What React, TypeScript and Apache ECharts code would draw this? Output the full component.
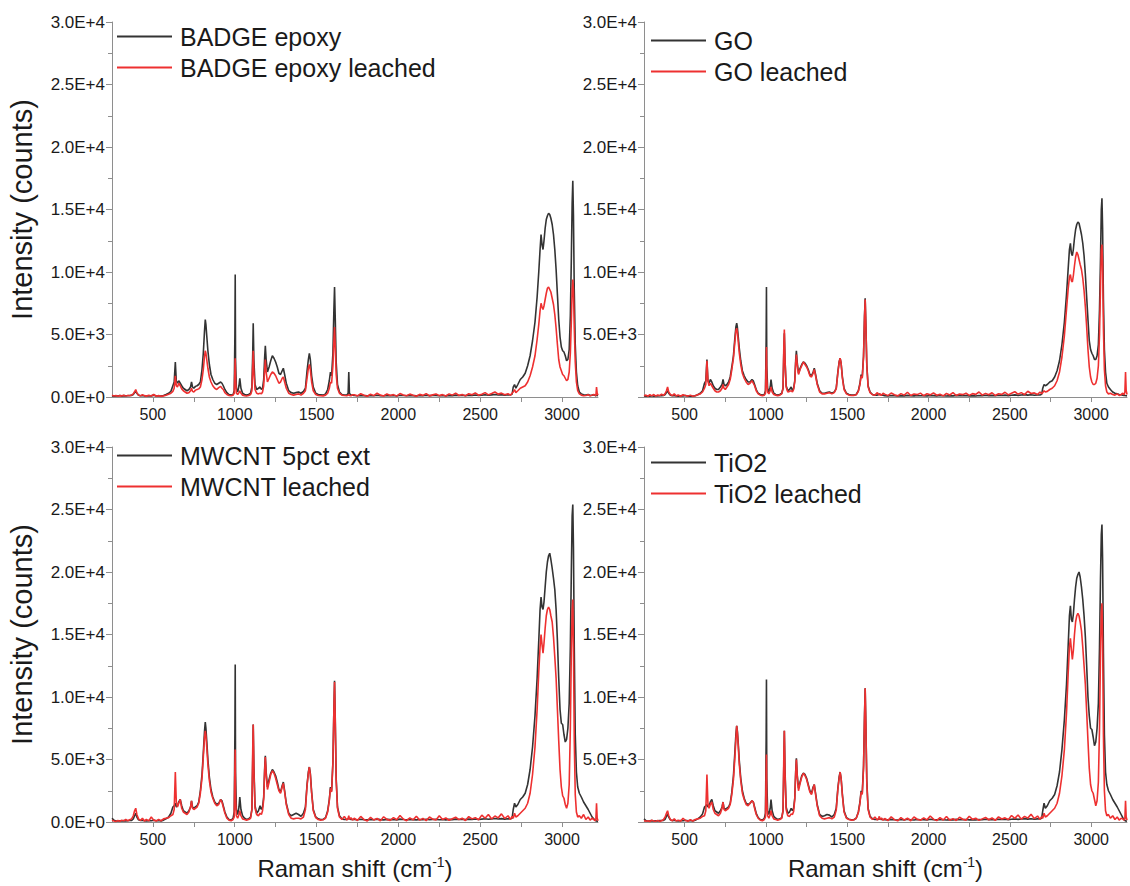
import React, { useEffect, useRef } from "react";
import * as echarts from "echarts";

// Raman shift sampling points (cm-1), shared by every spectrum
const LOW_SHIFT = [
  250, 262, 274, 286, 298, 310, 322, 334, 346, 358,
  370, 380, 388, 395, 402, 412, 424, 436, 448, 460,
  475, 490, 505, 520, 535, 550, 565, 580, 596, 610,
];
const FP_SHIFT = [
  622, 630, 637, 643, 650, 658, 667, 676, 686, 697,
  708, 720, 730, 736, 742, 750, 760, 770, 780, 790,
  800, 808, 815, 820, 824, 829, 836, 845, 855, 866,
  878, 890, 902, 914, 922, 930, 940, 952, 965, 978,
  990, 997, 1001, 1003, 1005, 1010, 1018, 1026, 1031, 1038,
  1048, 1060, 1072, 1085, 1097, 1105, 1110, 1113, 1117, 1124,
  1134, 1145, 1155, 1163, 1170, 1177, 1183, 1187, 1192, 1200,
  1210, 1220, 1230, 1240, 1250, 1260, 1270, 1280, 1290, 1297,
  1305, 1315, 1330, 1345, 1360, 1375, 1390, 1405, 1420, 1432,
  1442, 1450, 1456, 1462, 1470, 1480, 1495, 1510, 1525, 1540,
  1555, 1568, 1578, 1585, 1592, 1600, 1606, 1610, 1614, 1620,
  1628, 1640, 1655, 1670, 1685, 1693, 1697, 1701, 1710, 1720,
];
const QUIET_SHIFT = [
  1730, 1750, 1770, 1790, 1810, 1830, 1850, 1870, 1890, 1910,
  1930, 1950, 1970, 1990, 2010, 2030, 2050, 2070, 2090, 2110,
  2130, 2150, 2170, 2190, 2210, 2230, 2250, 2270, 2290, 2310,
  2330, 2350, 2370, 2390, 2410, 2430, 2450, 2470, 2490, 2510,
  2530, 2550, 2570, 2590, 2610, 2630, 2650, 2670, 2685, 2695,
];
const CH_SHIFT = [
  2702, 2710, 2718, 2730, 2745, 2760, 2775, 2790, 2805, 2820,
  2835, 2848, 2858, 2866, 2872, 2878, 2884, 2890, 2897, 2904,
  2911, 2918, 2925, 2932, 2940, 2948, 2956, 2964, 2972, 2980,
  2988, 2996, 3004, 3012, 3020, 3028, 3036, 3044, 3051, 3057,
  3062, 3066, 3070, 3075, 3081, 3088, 3096, 3106, 3118, 3132,
  3146, 3160, 3172, 3184, 3194, 3202, 3207, 3211, 3215, 3220,
];
const RAMAN_SHIFT = [...LOW_SHIFT, ...FP_SHIFT, ...QUIET_SHIFT, ...CH_SHIFT];

const X_TICKS = [500, 750, 1000, 1250, 1500, 1750, 2000, 2250, 2500, 2750, 3000];
const X_LABELS = [500, 1000, 1500, 2000, 2500, 3000];

// Intensities (counts) at each Raman shift above
const BADGE_EPOXY = [
  100, 60, 90, 80, 120, 70, 110, 90, 100, 120,
  130, 200, 350, 450, 300, 150, 100, 120, 90, 80,
  100, 90, 150, 80, 100, 70, 120, 200, 300, 450,
  900, 1200, 2800, 1300, 1100, 1300, 1100, 900, 700, 600,
  500, 600, 800, 1200, 800, 700, 850, 900, 1000, 1200,
  2200, 3500, 5200, 6200, 5800, 4900, 3700, 2600, 1800, 1400,
  1100, 1000, 1100, 1200, 1100, 900, 600, 350, 200, 150,
  200, 500, 5000, 9800, 3000, 700, 400, 900, 1500, 700,
  300, 200, 150, 200, 300, 800, 3500, 5900, 3000, 1000,
  600, 700, 800, 600, 700, 1400, 3200, 4100, 3000, 2000,
  2400, 2900, 3300, 3100, 2800, 2400, 1900, 1800, 2100, 2300,
  1800, 1100, 500, 350, 300, 350, 400, 300, 450, 700,
  2100, 3000, 3500, 3000, 1700, 800, 300, 200, 180, 150,
  250, 600, 1300, 2000, 1700, 3500, 7000, 8800, 6500, 2800,
  1000, 400, 200, 150, 150, 300, 2000, 300, 150, 150,
  120, 100, 130, 110, 90, 120, 100, 140, 110, 100,
  130, 110, 120, 90, 140, 120, 100, 130, 110, 90,
  120, 100, 140, 110, 120, 130, 100, 120, 90, 130,
  110, 150, 120, 140, 110, 150, 130, 160, 120, 150,
  180, 140, 170, 200, 160, 190, 150, 180, 170, 220,
  800, 1000, 700, 1000, 1400, 1600, 1900, 2500, 3300, 4500,
  6000, 8000, 10000, 11800, 13000, 12200, 11800, 12500, 13500, 14200,
  14500, 14700, 14600, 14300, 13800, 13000, 11800, 10200, 8200, 6200,
  4800, 4000, 3700, 3600, 3300, 2900, 3000, 3800, 6500, 11000,
  15500, 17300, 14500, 8500, 4200, 2000, 900, 400, 250, 180,
  150, 200, 120, 150, 180, 130, 110, 150, 120, 100,
];
const BADGE_LEACHED = [
  150, 80, 120, 60, 110, 90, 140, 70, 130, 100,
  160, 250, 420, 600, 330, 150, 90, 180, 110, 70,
  140, 80, 200, 60, 110, 50, 90, 140, 220, 300,
  450, 700, 1700, 900, 800, 1100, 900, 650, 500, 400,
  300, 350, 500, 700, 450, 400, 550, 600, 650, 800,
  1400, 2200, 3200, 3700, 3500, 3000, 2300, 1600, 1200, 900,
  700, 600, 750, 850, 700, 600, 350, 200, 120, 100,
  150, 300, 2200, 3100, 1500, 300, 200, 350, 500, 300,
  150, 100, 80, 120, 200, 500, 2500, 3700, 2000, 600,
  300, 250, 300, 250, 400, 900, 2200, 3000, 2000, 1200,
  1500, 1800, 2000, 1900, 1700, 1400, 1100, 1200, 1500, 1600,
  1200, 700, 300, 200, 150, 200, 250, 150, 300, 500,
  1500, 2300, 2600, 2200, 1200, 500, 200, 120, 100, 90,
  150, 300, 700, 1200, 1100, 2500, 4500, 5600, 4200, 1800,
  700, 300, 150, 120, 100, 150, 200, 120, 100, 180,
  180, 90, 260, 140, 60, 220, 110, 300, 150, 80,
  240, 120, 190, 70, 280, 160, 100, 230, 140, 60,
  210, 130, 270, 90, 170, 240, 110, 190, 80, 250,
  150, 310, 120, 200, 90, 260, 180, 330, 140, 220,
  350, 170, 280, 400, 230, 310, 180, 260, 150, 300,
  400, 600, 350, 500, 700, 800, 900, 1200, 1700, 2400,
  3300, 4600, 5800, 6900, 7500, 7200, 7000, 7300, 7800, 8300,
  8700, 8800, 8600, 8400, 7900, 7400, 6600, 5500, 4200, 3000,
  2400, 2100, 1800, 1700, 1500, 1300, 1400, 2000, 3500, 6000,
  8500, 9400, 8600, 5500, 2800, 1200, 500, 250, 150, 100,
  120, 180, 90, 150, 200, 150, 100, 800, 300, 150,
];

const GO = [
  80, 60, 90, 70, 100, 60, 90, 80, 100, 110,
  120, 200, 350, 500, 300, 150, 100, 130, 90, 70,
  90, 80, 120, 70, 90, 60, 100, 180, 300, 500,
  1100, 1300, 3000, 1300, 1100, 1400, 1200, 900, 700, 600,
  600, 800, 1000, 1400, 1000, 900, 1000, 1200, 1600, 2400,
  3300, 4600, 5600, 5900, 5600, 4900, 3900, 2900, 2100, 1700,
  1400, 1200, 1200, 1400, 1300, 1000, 600, 300, 200, 150,
  200, 500, 4500, 8800, 2500, 700, 400, 800, 1400, 700,
  300, 200, 150, 200, 300, 700, 3800, 5100, 3000, 900,
  500, 600, 800, 500, 700, 1300, 3000, 3700, 2800, 1900,
  2300, 2600, 2800, 2700, 2500, 2200, 1800, 1700, 2000, 2300,
  1800, 1100, 500, 300, 300, 350, 400, 300, 400, 700,
  2000, 2800, 3100, 2700, 1600, 700, 300, 200, 150, 150,
  200, 500, 1100, 1800, 1600, 3300, 6500, 7900, 6000, 2600,
  900, 400, 200, 150, 150, 200, 250, 200, 150, 150,
  110, 90, 120, 100, 80, 110, 90, 130, 100, 90,
  120, 100, 110, 80, 130, 110, 90, 120, 100, 80,
  110, 90, 130, 100, 110, 120, 90, 110, 80, 120,
  100, 140, 110, 130, 100, 140, 120, 150, 110, 140,
  170, 130, 160, 190, 150, 180, 140, 170, 160, 210,
  700, 1000, 900, 1000, 1200, 1300, 1600, 2100, 2900, 4200,
  6000, 8200, 10200, 11800, 12300, 11500, 11300, 11800, 12700, 13400,
  13800, 14000, 13900, 13500, 13000, 12300, 11300, 9800, 8000, 6200,
  4500, 3800, 3500, 3300, 3000, 3000, 3300, 4200, 7000, 11000,
  15000, 15900, 13500, 7800, 3800, 2000, 1100, 800, 600, 400,
  300, 250, 200, 180, 150, 130, 120, 110, 100, 90,
];
const GO_LEACHED = [
  100, 150, 60, 180, 90, 200, 70, 160, 110, 220,
  130, 280, 500, 800, 400, 200, 110, 250, 80, 170,
  60, 180, 120, 70, 150, 60, 100, 180, 250, 400,
  700, 1000, 2900, 1300, 900, 1100, 900, 700, 500, 400,
  400, 500, 700, 1000, 700, 600, 800, 1000, 1400, 2200,
  3100, 4300, 5300, 5500, 5200, 4500, 3500, 2600, 1900, 1500,
  1200, 1000, 1100, 1300, 1100, 900, 500, 250, 150, 100,
  150, 300, 2800, 4000, 1500, 400, 250, 500, 800, 400,
  200, 150, 100, 150, 250, 700, 4200, 5400, 3000, 800,
  400, 450, 500, 400, 600, 1200, 2800, 3400, 2600, 1800,
  2200, 2500, 2800, 2600, 2400, 2100, 1700, 1600, 1900, 2200,
  1700, 1000, 400, 250, 250, 300, 350, 250, 350, 650,
  1900, 2800, 3100, 2700, 1500, 600, 250, 150, 120, 130,
  180, 450, 1000, 1700, 1500, 3200, 6400, 7800, 5900, 2500,
  800, 350, 180, 150, 350, 200, 150, 250, 130, 300,
  230, 110, 320, 180, 90, 270, 150, 380, 120, 240,
  190, 310, 100, 260, 170, 330, 140, 220, 90, 280,
  160, 350, 120, 240, 190, 300, 130, 270, 210, 400,
  150, 290, 180, 340, 120, 260, 210, 380, 170, 300,
  420, 230, 350, 190, 460, 280, 330, 200, 400, 260,
  350, 500, 400, 450, 600, 700, 900, 1300, 2000, 3200,
  4900, 7000, 8600, 9600, 9800, 9300, 9200, 9700, 10500, 11200,
  11600, 11400, 11000, 10600, 10200, 9500, 8500, 7200, 5600, 3800,
  2400, 1600, 1200, 1000, 1000, 1100, 1500, 2500, 5000, 8800,
  11800, 12200, 10500, 5500, 2200, 900, 400, 250, 300, 200,
  150, 250, 120, 200, 300, 180, 400, 2000, 500, 200,
];

const MWCNT_5PCT = [
  300, 150, 80, 90, 100, 80, 110, 90, 100, 120,
  130, 250, 500, 700, 400, 180, 120, 140, 100, 90,
  110, 100, 150, 100, 120, 90, 150, 250, 400, 700,
  1200, 1300, 1500, 1200, 1300, 1600, 1800, 1300, 900, 800,
  700, 900, 1200, 1700, 1200, 1100, 1200, 1300, 1600, 2500,
  3800, 5500, 7200, 8000, 7500, 6500, 5000, 3600, 2600, 2000,
  1600, 1400, 1500, 1800, 1700, 1300, 800, 400, 200, 150,
  300, 800, 7000, 12600, 4000, 1000, 600, 1200, 2000, 1000,
  500, 300, 200, 250, 400, 1000, 5000, 7800, 4500, 1300,
  700, 900, 1300, 1000, 1200, 2000, 4300, 5300, 4000, 2800,
  3400, 3900, 4200, 4000, 3700, 3200, 2600, 2400, 2900, 3200,
  2500, 1500, 700, 500, 600, 700, 600, 450, 700, 1200,
  3000, 4000, 4400, 3900, 2400, 1000, 400, 250, 200, 200,
  350, 900, 1800, 2800, 2500, 4800, 9000, 11300, 8500, 3500,
  1200, 500, 250, 200, 200, 250, 300, 250, 200, 200,
  200, 180, 220, 190, 170, 210, 180, 230, 190, 170,
  210, 190, 200, 170, 230, 200, 180, 210, 190, 170,
  200, 180, 220, 190, 200, 210, 180, 200, 170, 210,
  190, 230, 200, 220, 190, 230, 210, 240, 200, 230,
  260, 220, 250, 280, 240, 270, 230, 260, 250, 300,
  1000, 1500, 1200, 1400, 1800, 2000, 2300, 3000, 4200, 6000,
  8500, 11500, 14500, 17000, 18000, 17200, 17000, 17600, 18800, 20000,
  20800, 21300, 21500, 21000, 20300, 19500, 18600, 17000, 14500, 11500,
  9000, 7900, 7800, 7000, 6400, 6600, 7500, 9500, 14000, 20000,
  24500, 25400, 22000, 14000, 7000, 4000, 2800, 2300, 2000, 1600,
  1300, 1000, 700, 400, 250, 150, 100, 80, 60, 50,
];
const MWCNT_LEACHED = [
  150, 80, 40, 120, 60, 150, 90, 200, 100, 180,
  250, 500, 900, 1100, 600, 250, 120, 300, 80, 200,
  90, 400, 150, 80, 200, 100, 250, 300, 350, 500,
  600, 1000, 4000, 1600, 1200, 1500, 1800, 1100, 800, 700,
  600, 800, 1200, 1700, 1100, 1000, 1100, 1200, 1500, 2300,
  3500, 5200, 6700, 7300, 6900, 6000, 4600, 3300, 2400, 1900,
  1500, 1300, 1400, 1800, 1600, 1200, 700, 300, 150, 100,
  200, 400, 4500, 5800, 2000, 500, 300, 600, 900, 500,
  250, 200, 150, 200, 300, 1000, 5800, 7800, 4200, 1100,
  600, 500, 700, 600, 900, 1800, 4100, 5200, 3800, 2600,
  3200, 3800, 4100, 3900, 3500, 3000, 2500, 2300, 2800, 3100,
  2400, 1400, 600, 300, 250, 300, 300, 250, 400, 1000,
  2900, 3900, 4400, 3800, 2300, 900, 350, 200, 150, 180,
  300, 800, 1700, 2700, 2400, 4700, 9000, 11200, 8400, 3300,
  1100, 400, 200, 450, 150, 300, 500, 200, 350, 150,
  300, 120, 450, 200, 80, 380, 160, 280, 90, 420,
  210, 130, 350, 180, 520, 240, 100, 330, 170, 460,
  150, 290, 110, 400, 230, 160, 500, 200, 320, 140,
  260, 380, 190, 300, 120, 430, 250, 350, 180, 550,
  300, 600, 240, 480, 330, 650, 280, 500, 200, 450,
  300, 700, 400, 500, 700, 900, 1100, 1500, 2300, 3800,
  6000, 9000, 12000, 14000, 15000, 14200, 13500, 14300, 15500, 16500,
  17000, 17200, 17000, 16500, 16000, 14800, 13200, 11500, 9000, 6500,
  4200, 2800, 2100, 1900, 1400, 1100, 1500, 3000, 7500, 13500,
  17000, 17800, 14000, 6500, 2200, 800, 400, 500, 300, 600,
  200, 400, 150, 300, 200, 100, 200, 1500, 300, 100,
];

const TIO2 = [
  250, 120, 80, 90, 110, 80, 100, 90, 110, 120,
  130, 220, 450, 650, 400, 170, 110, 140, 100, 90,
  110, 100, 140, 100, 120, 90, 140, 250, 400, 650,
  1200, 1300, 1400, 1200, 1300, 1600, 1800, 1300, 900, 800,
  700, 900, 1200, 1600, 1100, 1000, 1100, 1200, 1500, 2400,
  3700, 5400, 7000, 7700, 7300, 6400, 4900, 3500, 2500, 1900,
  1500, 1400, 1500, 1700, 1600, 1200, 700, 350, 200, 150,
  300, 700, 6500, 11400, 3500, 900, 600, 1100, 1800, 900,
  450, 300, 200, 250, 350, 900, 4800, 7300, 4200, 1200,
  700, 800, 1100, 900, 1100, 1900, 4100, 5100, 3800, 2700,
  3200, 3700, 3900, 3800, 3500, 3000, 2500, 2300, 2800, 3000,
  2300, 1400, 600, 450, 500, 600, 550, 400, 600, 1100,
  2700, 3600, 4000, 3500, 2200, 900, 350, 220, 180, 180,
  300, 800, 1600, 2500, 2300, 4500, 8500, 10700, 8000, 3300,
  1100, 450, 250, 200, 200, 230, 250, 220, 200, 200,
  190, 170, 210, 180, 160, 200, 170, 220, 180, 160,
  200, 180, 190, 160, 220, 190, 170, 200, 180, 160,
  190, 170, 210, 180, 190, 200, 170, 190, 160, 200,
  180, 220, 190, 210, 180, 220, 200, 230, 190, 220,
  250, 210, 240, 270, 230, 260, 220, 250, 240, 290,
  900, 1500, 1100, 1300, 1700, 1900, 2200, 2900, 4000, 5800,
  8200, 11000, 14000, 16500, 17300, 16200, 16000, 16600, 17800, 18800,
  19500, 19800, 20000, 19600, 18800, 17800, 16500, 14800, 12500, 10000,
  8500, 7500, 7400, 6800, 6100, 6400, 7500, 9500, 14000, 19500,
  23000, 23800, 21000, 13500, 7000, 4000, 3000, 2500, 2200, 1800,
  1500, 1200, 900, 600, 350, 200, 120, 90, 70, 60,
];
const TIO2_LEACHED = [
  120, 60, 100, 40, 150, 80, 60, 130, 50, 100,
  200, 400, 700, 900, 500, 200, 100, 250, 80, 150,
  60, 300, 120, 60, 180, 80, 200, 250, 300, 450,
  500, 900, 3800, 1500, 1100, 1400, 1600, 1000, 700, 600,
  500, 700, 1100, 1600, 1000, 900, 1000, 1100, 1400, 2200,
  3400, 5000, 6600, 7700, 7200, 6200, 4600, 3300, 2300, 1800,
  1400, 1300, 1500, 1700, 1600, 1100, 600, 300, 150, 100,
  200, 400, 4200, 5400, 1800, 500, 300, 600, 900, 500,
  250, 200, 150, 200, 300, 900, 5500, 7300, 4000, 1000,
  500, 450, 650, 600, 850, 1800, 4000, 5000, 3700, 2500,
  3100, 3600, 3900, 3700, 3400, 2900, 2400, 2200, 2700, 3000,
  2200, 1300, 500, 300, 250, 300, 350, 250, 400, 950,
  2600, 3500, 4000, 3500, 2100, 800, 300, 200, 150, 170,
  300, 750, 1500, 2400, 2200, 4300, 8400, 10700, 7900, 3100,
  1000, 400, 200, 400, 150, 300, 450, 200, 320, 140,
  280, 110, 420, 190, 90, 360, 150, 300, 100, 400,
  220, 140, 330, 170, 480, 230, 110, 350, 160, 440,
  140, 270, 120, 380, 220, 150, 460, 210, 300, 130,
  250, 360, 180, 320, 130, 410, 240, 330, 190, 520,
  290, 560, 230, 450, 310, 620, 270, 480, 210, 420,
  300, 700, 400, 500, 700, 900, 1100, 1500, 2300, 3700,
  5800, 8700, 11800, 14000, 14700, 13800, 13000, 13700, 15000, 16000,
  16500, 16700, 16500, 16000, 15300, 14000, 12500, 11000, 8800, 6500,
  4300, 3000, 2500, 2300, 1800, 1300, 1700, 3200, 7500, 13500,
  16800, 17500, 14500, 7000, 2500, 900, 500, 600, 300, 500,
  200, 400, 150, 300, 250, 150, 250, 1700, 400, 150,
];

const SAMPLE_NAMES = ["BADGE epoxy", "GO", "MWCNT 5pct ext", "TiO2"];
const LEACHED_NAMES = ["BADGE epoxy leached", "GO leached", "MWCNT leached", "TiO2 leached"];
const SAMPLE_SPECTRA = [BADGE_EPOXY, GO, MWCNT_5PCT, TIO2];
const LEACHED_SPECTRA = [BADGE_LEACHED, GO_LEACHED, MWCNT_LEACHED, TIO2_LEACHED];

// panel layout: top-left, top-right, bottom-left, bottom-right
const GRID_BOXES = [
  { left: 112, top: 22, width: 486, height: 375 },
  { left: 644, top: 22, width: 483, height: 375 },
  { left: 112, top: 447, width: 486, height: 375 },
  { left: 644, top: 447, width: 483, height: 375 },
];
const LEGEND_POS = [
  { left: 117, top: 21 },
  { left: 651, top: 25 },
  { left: 117, top: 440 },
  { left: 651, top: 447 },
];

const AXIS_GREY = "#8e8e8e";
const TEXT_COLOR = "#1a1a1a";
const DARK_LINE = "#333333";
const RED_LINE = "#ee3030";
const FONT = "Liberation Sans, Arial, sans-serif";

function sci(v: number): string {
  if (v === 0) return "0.0E+0";
  const e = Math.floor(Math.log10(v));
  const m = v / Math.pow(10, e);
  return m.toFixed(1) + "E+" + e;
}

function pairs(values: number[]) {
  return RAMAN_SHIFT.map((x, i) => [x, values[i]]);
}

export default function App() {
  const ref = useRef<HTMLDivElement | null>(null);

  useEffect(() => {
    if (!ref.current) return;
    const chart = echarts.init(ref.current, undefined, { renderer: "svg" });

    const grid = GRID_BOXES.map((b) => ({ ...b, containLabel: false }));

    const xAxis = GRID_BOXES.map((_, i) => ({
      type: "value",
      gridIndex: i,
      min: 250,
      max: 3220,
      name: i >= 2 ? "Raman shift (cm{sup|-1})" : "",
      nameLocation: "middle",
      nameGap: 33,
      nameTextStyle: {
        fontFamily: FONT,
        fontSize: 24,
        color: TEXT_COLOR,
        rich: {
          sup: { fontFamily: FONT, fontSize: 14, color: TEXT_COLOR, verticalAlign: "top", padding: [0, 0, 12, 0] },
        },
      },
      axisLine: { show: true, onZero: false, lineStyle: { color: AXIS_GREY, width: 1 } },
      axisTick: { show: true, length: 5, customValues: X_TICKS, lineStyle: { color: AXIS_GREY } },
      axisLabel: {
        customValues: X_LABELS,
        fontFamily: FONT,
        fontSize: 16,
        color: TEXT_COLOR,
        margin: 9,
        formatter: (v: number) => String(v),
      },
      splitLine: { show: false },
    }));

    const yAxis = GRID_BOXES.map((_, i) => ({
      type: "value",
      gridIndex: i,
      min: 0,
      max: 30000,
      interval: 5000,
      name: i % 2 === 0 ? "Intensity (counts)" : "",
      nameLocation: "middle",
      nameGap: 76,
      nameTextStyle: { fontFamily: FONT, fontSize: 29, color: TEXT_COLOR },
      axisLine: { show: true, lineStyle: { color: AXIS_GREY, width: 1 } },
      axisTick: { show: true, length: 6, lineStyle: { color: AXIS_GREY } },
      minorTick: { show: true, splitNumber: 2, length: 4, lineStyle: { color: AXIS_GREY } },
      axisLabel: {
        fontFamily: FONT,
        fontSize: 17,
        color: TEXT_COLOR,
        margin: 7,
        formatter: (v: number) => (v === 0 && i % 2 === 1 ? "" : sci(v)),
      },
      splitLine: { show: false },
    }));

    const series: any[] = [];
    for (let i = 0; i < 4; i++) {
      series.push({
        type: "line",
        name: SAMPLE_NAMES[i],
        xAxisIndex: i,
        yAxisIndex: i,
        data: pairs(SAMPLE_SPECTRA[i]),
        symbol: "none",
        lineStyle: { color: DARK_LINE, width: 1.6 },
        itemStyle: { color: DARK_LINE },
        z: 2,
      });
      series.push({
        type: "line",
        name: LEACHED_NAMES[i],
        xAxisIndex: i,
        yAxisIndex: i,
        data: pairs(LEACHED_SPECTRA[i]),
        symbol: "none",
        lineStyle: { color: RED_LINE, width: 1.6 },
        itemStyle: { color: RED_LINE },
        z: 3,
      });
    }

    const legend = LEGEND_POS.map((p, i) => ({
      ...p,
      orient: "vertical",
      padding: 0,
      itemGap: 0,
      icon: "rect",
      itemWidth: 55,
      itemHeight: 2,
      selectedMode: false,
      data: [SAMPLE_NAMES[i], LEACHED_NAMES[i]],
      textStyle: { fontFamily: FONT, fontSize: 25, color: TEXT_COLOR, lineHeight: 31, padding: [0, 0, 0, 3] },
    }));

    chart.setOption({
      animation: false,
      backgroundColor: "#ffffff",
      grid,
      xAxis,
      yAxis,
      legend,
      series,
    });

    return () => chart.dispose();
  }, []);

  return (
    <div
      ref={ref}
      style={{ position: "absolute", left: 0, top: 0, width: 1130, height: 886, background: "#ffffff" }}
    />
  );
}
